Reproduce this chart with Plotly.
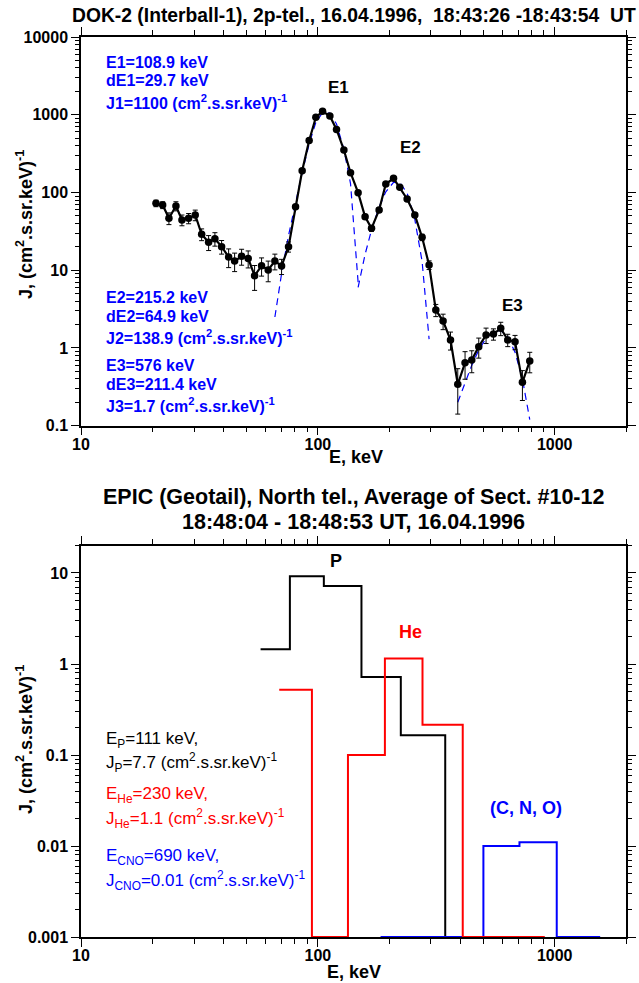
import plotly.graph_objects as go

# ---------------- data: DOK-2 spectrum (top panel) ----------------
dok_E = [20.73, 22.12, 23.51, 25.17, 26.68, 28.47, 30.36, 32.31, 34.58, 36.76,
         39.24, 42.01, 44.52, 47.65, 50.80, 54.07, 57.86, 61.71, 65.86, 70.28,
         75.20, 80.52, 85.86, 91.90, 98.08, 104.7, 112.4, 119.9, 128.8, 137.4,
         147.9, 158.3, 168.5, 181.4, 193.6, 208.7, 221.8, 238.2, 256.7, 275.5,
         294.9, 314.8, 337.9, 363.1, 389.7, 418.3, 446.6, 477.9, 513.1, 551.3,
         591.8, 633.4, 680.0, 730.6, 784.6]
dok_J = [72.6, 69.0, 46.6, 67.0, 44.3, 46.6, 51.3, 29.0, 22.9, 25.4,
         20.1, 14.8, 13.1, 15.1, 14.2, 8.5, 11.4, 10.1, 13.1, 11.3,
         20.1, 65.6, 190, 466, 927, 1107, 963, 646, 352, 179.6,
         99.4, 48.8, 34.6, 59.5, 128.5, 152.2, 116.6, 82.4, 51.3, 26.5,
         11.7, 3.08, 2.22, 1.27, 0.341, 0.646, 0.70, 1.04, 1.47, 1.51,
         1.79, 1.27, 1.20, 0.361, 0.679]
dok_err = [7, 7, 8, 9, 7, 7, 8, 5, 5, 5,
           4, 4, 3.5, 3.5, 3.5, 3, 3, 3, 3, 2.5,
           3, 4, 5, 8, 12, 12, 12, 10, 8, 6,
           5, 3.5, 3, 4, 5, 5, 5, 4, 3.5, 2.5,
           1.5, 0.55, 0.5, 0.33, 0.2, 0.25, 0.22, 0.3, 0.33, 0.25,
           0.35, 0.23, 0.25, 0.15, 0.2]

fit1_E = [65.86, 70.28, 75.20, 80.52, 85.86, 91.90, 98.08, 104.7, 112.4, 119.9, 128.8, 137.4, 147.9]
fit1_J = [2.5, 9, 28, 75, 180, 420, 800, 1060, 1050, 760, 360, 130, 7]
fit2_E = [147.9, 158.3, 168.5, 181.4, 193.6, 208.7, 221.8, 238.2, 256.7, 275.5, 294.9]
fit2_J = [6, 16, 33, 65, 102, 135, 135, 98, 45, 13, 1.3]
fit3_E = [389.7, 418.3, 446.6, 477.9, 513.1, 551.3, 591.8, 633.4, 680.0, 730.6, 784.6]
fit3_J = [0.2, 0.36, 0.6, 0.94, 1.33, 1.62, 1.68, 1.4, 0.88, 0.4, 0.12]

# ---------------- data: EPIC histograms (bottom panel) ----------------
p_edges = [57.3, 76.2, 106, 152.8, 224, 345, 420]
p_vals = [1.45, 9.2, 7.2, 0.72, 0.165, 0.001]
he_edges = [68.7, 94.4, 134, 191.9, 276.6, 409, 908]
he_vals = [0.52, 0.001, 0.1, 1.15, 0.215, 0.001]
cno_edges = [184, 500, 710, 1020, 1556]
cno_vals = [0.001, 0.01, 0.011, 0.001]

# ---------------- tick labels ----------------
x_tickvals = [10, 100, 1000]
x_ticktext = ["10", "100", "1000"]
y1_tickvals = [0.1, 1, 10, 100, 1000, 10000]
y1_ticktext = ["0.1", "1", "10", "100", "1000", "10000"]
y2_tickvals = [0.001, 0.01, 0.1, 1, 10]
y2_ticktext = ["0.001", "0.01", "0.1", "1", "10"]

BLUE = "#0000ff"
RED = "#ff0000"
FONT = "Liberation Sans, Arial, Helvetica, sans-serif"

W, H = 639, 983
L, R, T, B = 81, 13, 37, 46
PW, PH = W - L - R, H - T - B


def fx(px):
    return (px - L) / PW


def fy(py):
    return (H - B - py) / PH


def minor_vals(lo_exp, hi_exp, extra=()):
    vals = []
    for e in range(lo_exp, hi_exp):
        for d in range(2, 10):
            vals.append(d * 10.0 ** e)
    return vals + list(extra)


def step_xy(edges, vals):
    return list(edges), list(vals) + [vals[-1]]


fig = go.Figure()

# top panel
for fe, fj in ((fit1_E, fit1_J), (fit2_E, fit2_J), (fit3_E, fit3_J)):
    fig.add_trace(go.Scatter(x=fe, y=fj, mode="lines", xaxis="x", yaxis="y",
                             line=dict(color=BLUE, width=1.2, dash="7px,5px"),
                             showlegend=False, hoverinfo="skip"))
fig.add_trace(go.Scatter(x=dok_E, y=dok_J, mode="lines+markers", xaxis="x", yaxis="y",
                         line=dict(color="black", width=2.2),
                         marker=dict(color="black", size=7.5),
                         error_y=dict(type="data", array=dok_err, color="black",
                                      thickness=1, width=2.5),
                         showlegend=False))

# bottom panel
for edges, vals, col in ((p_edges, p_vals, "black"), (cno_edges, cno_vals, BLUE),
                         (he_edges, he_vals, RED)):
    sx, sy = step_xy(edges, vals)
    fig.add_trace(go.Scatter(x=sx, y=sy, mode="lines", xaxis="x2", yaxis="y2",
                             line=dict(color=col, width=2, shape="hv"),
                             showlegend=False))

common_x = dict(type="log", range=[1, 3.30103], showgrid=False, zeroline=False,
                automargin=False,
                showline=True, linecolor="black", linewidth=1.5, mirror="ticks",
                ticks="outside", ticklen=8, tickwidth=1.2, tickcolor="black",
                tickvals=x_tickvals, ticktext=x_ticktext, ticklabelstandoff=-5,
                tickfont=dict(family=FONT, size=16, color="black", weight="bold"),
                minor=dict(tickmode="array", tickvals=minor_vals(1, 3, (2000,)),
                           ticks="outside", ticklen=5, tickwidth=1, tickcolor="black",
                           showgrid=False))

common_y = dict(type="log", showgrid=False, zeroline=False, automargin=False,
                showline=True, linecolor="black", linewidth=1.5, mirror="ticks",
                ticks="outside", ticklen=8, tickwidth=1.2, tickcolor="black",
                tickfont=dict(family=FONT, size=16, color="black", weight="bold"))

fig.update_layout(
    width=W, height=H, autosize=False,
    margin=dict(l=L, r=R, t=T, b=B, pad=0),
    paper_bgcolor="white", plot_bgcolor="white",
    xaxis=dict(common_x, anchor="y", domain=[0, 1]),
    yaxis=dict(common_y, anchor="x", domain=[fy(425.7), 1.0], range=[-1, 4],
               tickvals=y1_tickvals, ticktext=y1_ticktext,
               minor=dict(tickmode="array", tickvals=minor_vals(-1, 4), ticks="outside",
                          ticklen=4, tickwidth=1, tickcolor="black", showgrid=False)),
    xaxis2=dict(common_x, anchor="y2", domain=[0, 1]),
    yaxis2=dict(common_y, anchor="x2", domain=[0, fy(545.6)], range=[-3, 1.30103],
                tickvals=y2_tickvals, ticktext=y2_ticktext,
                minor=dict(tickmode="array", tickvals=minor_vals(-3, 1, (20,)), ticks="outside",
                           ticklen=4, tickwidth=1, tickcolor="black", showgrid=False)),
)

anns = []


def ann(text, px, py, color="black", size=16, bold=False, xanchor="left", angle=0):
    t = "<b>%s</b>" % text if bold else text
    anns.append(dict(text=t, x=fx(px), y=fy(py), xref="paper", yref="paper",
                     xanchor=xanchor, yanchor="middle", showarrow=False,
                     textangle=angle,
                     font=dict(family=FONT, size=size, color=color)))


UNIT = "(cm<sup>2</sup>.s.sr.keV)<sup>-1</sup>"
NB = "\u00a0"

# top panel texts
ann("DOK-2 (Interball-1), 2p-tel., 16.04.1996," + NB + " 18:43:26 -18:43:54" + NB + " UT",
    638, 16, size=19.3, bold=True, xanchor="right")
ann("E1=108.9 keV", 104, 62, BLUE, 16, True)
ann("dE1=29.7 keV", 104, 81, BLUE, 16, True)
ann("J1=1100 " + UNIT, 104, 102, BLUE, 16, True)
ann("E2=215.2 keV", 104, 297, BLUE, 16, True)
ann("dE2=64.9 keV", 104, 316, BLUE, 16, True)
ann("J2=138.9 " + UNIT, 104, 337, BLUE, 16, True)
ann("E3=576 keV", 104, 365, BLUE, 16, True)
ann("dE3=211.4 keV", 104, 384, BLUE, 16, True)
ann("J3=1.7 " + UNIT, 104, 405, BLUE, 16, True)
ann("E1", 338, 88, "black", 17, True, "center")
ann("E2", 410, 148, "black", 17, True, "center")
ann("E3", 512, 305, "black", 17, True, "center")
ann("J, (cm<sup>2</sup>.s.sr.keV)<sup>-1</sup>", 24, 225, "black", 18, True, "center", -90)
ann("E, keV", 356, 457, "black", 18, True, "center")

# bottom panel texts
ann("EPIC (Geotail), North tel., Average of Sect. #10-12", 353, 497, size=21.5, bold=True, xanchor="center")
ann("18:48:04 - 18:48:53 UT, 16.04.1996", 353, 522, size=21.5, bold=True, xanchor="center")
ann("P", 336, 561, "black", 18, True, "center")
ann("He", 410, 632, RED, 18, True, "center")
ann("(C, N, O)", 526, 808, BLUE, 18, True, "center")
ann("E<sub>P</sub>=111 keV,", 104, 740, "black", 17)
ann("J<sub>P</sub>=7.7 " + UNIT, 104, 762, "black", 17)
ann("E<sub>He</sub>=230 keV,", 104, 795, RED, 17)
ann("J<sub>He</sub>=1.1 " + UNIT, 104, 818, RED, 17)
ann("E<sub>CNO</sub>=690 keV,", 104, 857, BLUE, 17)
ann("J<sub>CNO</sub>=0.01 " + UNIT, 104, 880, BLUE, 17)
ann("J, (cm<sup>2</sup>.s.sr.keV)<sup>-1</sup>", 24, 740, "black", 18, True, "center", -90)
ann("E, keV", 354, 972, "black", 18, True, "center")

fig.update_layout(annotations=anns)
fig.write_html("out.html")
